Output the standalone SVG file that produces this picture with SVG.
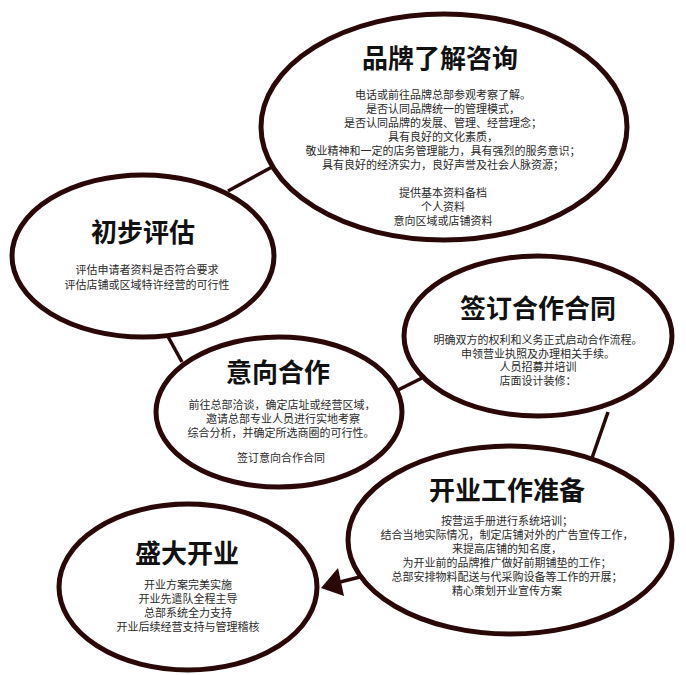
<svg xmlns="http://www.w3.org/2000/svg" width="686" height="675" viewBox="0 0 686 675">
<style>
.node ellipse{fill:#fff;stroke:#2a0808;stroke-width:5}
.conn line{stroke:#2a0808;stroke-width:3.5;fill:none}
.conn polygon{fill:#2a0808;stroke:none}
.t{font-family:"Noto Sans CJK SC","Noto Sans",sans-serif;font-size:26px;font-weight:bold;fill:#111;text-anchor:middle}
.b{font-family:"Liberation Sans","Noto Sans CJK SC",sans-serif;font-size:11px;fill:#2a2a2a;text-anchor:middle}
</style>
<rect width="686" height="675" fill="#fff"/>
<g id="connectors" class="conn">
<line x1="228" y1="191" x2="272" y2="167"/>
<line x1="166" y1="333" x2="182" y2="362"/>
<line x1="398" y1="390" x2="424" y2="377"/>
<line x1="608" y1="412" x2="592" y2="458"/>
<line x1="360" y1="577" x2="336" y2="583"/>
<polygon points="321,588 338,568 344,596"/>
</g>
<g id="n1" class="node">
<ellipse cx="444" cy="127" rx="183" ry="113"/>
<text class="t" x="440" y="68">品牌了解咨询</text>
<text class="b" x="443" y="99">电话或前往品牌总部参观考察了解。</text>
<text class="b" x="443" y="113">是否认同品牌统一的管理模式，</text>
<text class="b" x="443" y="127">是否认同品牌的发展、管理、经营理念；</text>
<text class="b" x="443" y="141">具有良好的文化素质，</text>
<text class="b" x="443" y="155">敬业精神和一定的店务管理能力，具有强烈的服务意识；</text>
<text class="b" x="443" y="169">具有良好的经济实力，良好声誉及社会人脉资源；</text>
<text class="b" x="443" y="197">提供基本资料备档</text>
<text class="b" x="443" y="211">个人资料</text>
<text class="b" x="443" y="225">意向区域或店铺资料</text>
</g>
<g id="n2" class="node">
<ellipse cx="143" cy="256" rx="131" ry="81"/>
<text class="t" x="143" y="242">初步评估</text>
<text class="b" x="147" y="274">评估申请者资料是否符合要求</text>
<text class="b" x="147" y="289">评估店铺或区域特许经营的可行性</text>
</g>
<g id="n3" class="node">
<ellipse cx="538" cy="336" rx="134" ry="80"/>
<text class="t" x="538" y="318">签订合作合同</text>
<text class="b" x="538" y="344">明确双方的权利和义务正式启动合作流程。</text>
<text class="b" x="538" y="358">申领营业执照及办理相关手续。</text>
<text class="b" x="538" y="371">人员招募并培训</text>
<text class="b" x="538" y="385">店面设计装修：</text>
</g>
<g id="n4" class="node">
<ellipse cx="279" cy="412" rx="123" ry="75"/>
<text class="t" x="278" y="382">意向合作</text>
<text class="b" x="282" y="409">前往总部洽谈，确定店址或经营区域，</text>
<text class="b" x="283" y="423">邀请总部专业人员进行实地考察</text>
<text class="b" x="281" y="437">综合分析，并确定所选商圈的可行性。</text>
<text class="b" x="281" y="462">签订意向合作合同</text>
</g>
<g id="n5" class="node">
<ellipse cx="510" cy="540" rx="162" ry="94"/>
<text class="t" x="507" y="500">开业工作准备</text>
<text class="b" x="507" y="525">按营运手册进行系统培训；</text>
<text class="b" x="507" y="539">结合当地实际情况，制定店铺对外的广告宣传工作，</text>
<text class="b" x="507" y="553">来提高店铺的知名度，</text>
<text class="b" x="507" y="567">为开业前的品牌推广做好前期铺垫的工作；</text>
<text class="b" x="507" y="581">总部安排物料配送与代采购设备等工作的开展；</text>
<text class="b" x="507" y="595">精心策划开业宣传方案</text>
</g>
<g id="n6" class="node">
<ellipse cx="188" cy="587" rx="129" ry="83"/>
<text class="t" x="187" y="563">盛大开业</text>
<text class="b" x="188" y="589">开业方案完美实施</text>
<text class="b" x="188" y="603">开业先遣队全程主导</text>
<text class="b" x="188" y="617">总部系统全力支持</text>
<text class="b" x="188" y="631">开业后续经营支持与管理稽核</text>
</g>
</svg>
